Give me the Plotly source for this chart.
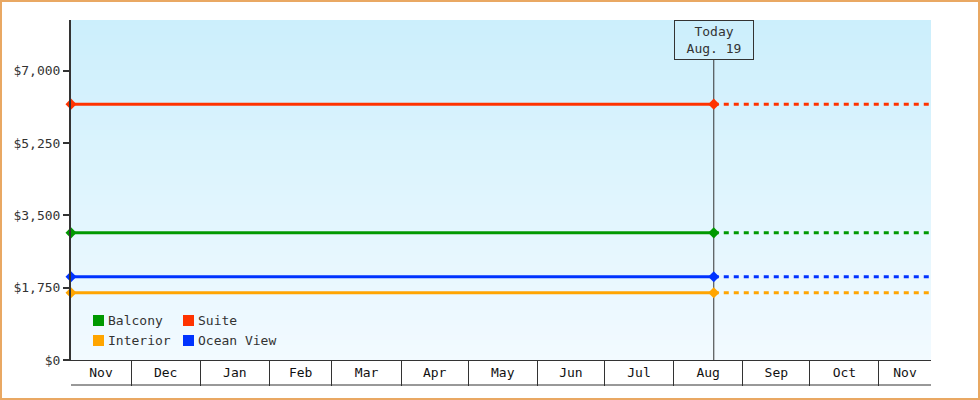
import plotly.graph_objects as go
import pandas as pd

# ---- data ----
names = ["Balcony", "Suite", "Interior", "Ocean View"]
prices = [3075, 6189, 1627, 2013]
colors = ["#009900", "#ff3300", "#ffa500", "#0033ff"]
legend_rows = [["Balcony", "Suite"], ["Interior", "Ocean View"]]

month_labels = ["Nov", "Dec", "Jan", "Feb", "Mar", "Apr", "May", "Jun",
                "Jul", "Aug", "Sep", "Oct", "Nov"]
month_starts = ["2024-11-01", "2024-12-01", "2025-01-01", "2025-02-01",
                "2025-03-01", "2025-04-01", "2025-05-01", "2025-06-01",
                "2025-07-01", "2025-08-01", "2025-09-01", "2025-10-01",
                "2025-11-01", "2025-12-01"]
range_start = "2024-11-04 03:00"
range_end = "2025-11-24 07:00"
today = "2025-08-19"
today_text = "Today<br>Aug. 19"
ytick_vals = [0, 1750, 3500, 5250, 7000]
ytick_text = ["$0", "$1,750", "$3,500", "$5,250", "$7,000"]
y_max = 8224

FONT = "DejaVu Sans Mono"
INK = "#333333"

# ---- geometry helpers (pixels -> paper) ----
W, H = 980, 400
ML, MR, MT, MB = 71, 49, 20, 40
PW, PH = W - ML - MR, H - MT - MB


def px_x(p):
    return (p - ML) / PW


def px_y(p):
    return (H - MB - p) / PH


fig = go.Figure()

for name, price, color in zip(names, prices, colors):
    fig.add_trace(go.Scatter(
        x=[today, range_end], y=[price, price], mode="lines",
        line=dict(color=color, width=3, dash="5px,5px"),
        showlegend=False, hoverinfo="skip", name=name))
    fig.add_trace(go.Scatter(
        x=[range_start, today], y=[price, price], mode="lines+markers",
        line=dict(color=color, width=3),
        marker=dict(symbol="diamond", size=8.5, color=color),
        cliponaxis=False, showlegend=False, hoverinfo="skip", name=name))

# month tick positions: centre of visible part of each month
rs, re_ = pd.Timestamp(range_start), pd.Timestamp(range_end)
tick_pos = []
for i in range(len(month_labels)):
    a = max(pd.Timestamp(month_starts[i]), rs)
    b = min(pd.Timestamp(month_starts[i + 1]), re_)
    tick_pos.append((a + (b - a) / 2).strftime("%Y-%m-%d %H:%M"))

shapes = []
# gradient background
top_c = (204, 239, 252)
bot_c = (242, 250, 255)
n = 68
for i in range(n):
    t = i / (n - 1)
    c = tuple(round(top_c[k] + (bot_c[k] - top_c[k]) * t) for k in range(3))
    shapes.append(dict(type="rect", xref="paper", yref="paper", x0=0, x1=1,
                       y0=1 - (i + 1) / n, y1=1 - i / n, line=dict(width=0),
                       fillcolor="rgb(%d,%d,%d)" % c, layer="below"))
# today line
shapes.append(dict(type="line", xref="x", yref="paper", x0=today, x1=today,
                   y0=0, y1=px_y(60), line=dict(color=INK, width=1),
                   layer="below"))
# bottom line of month table
shapes.append(dict(type="line", xref="paper", yref="paper", x0=0, x1=1,
                   y0=px_y(385), y1=px_y(385), line=dict(color=INK, width=1)))
# outer border
shapes.append(dict(type="rect", xref="paper", yref="paper",
                   x0=px_x(1), x1=px_x(979), y0=px_y(399), y1=px_y(1),
                   line=dict(color="#e9a863", width=2)))

annotations = [dict(x=today, xref="x", y=1, yref="paper", yanchor="top",
                    xanchor="center", text=today_text, showarrow=False,
                    font=dict(family=FONT, size=13, color=INK),
                    bordercolor=INK, borderwidth=1, borderpad=3,
                    width=72, height=32, align="center")]

# legend (manual, 2 x 2)
col_x = [93, 183]
row_y = [320.5, 340.5]
for r, row in enumerate(legend_rows):
    for c, nm in enumerate(row):
        color = colors[names.index(nm)]
        shapes.append(dict(type="rect", xref="paper", yref="paper",
                           x0=px_x(col_x[c]), x1=px_x(col_x[c] + 11),
                           y0=px_y(row_y[r] + 5.5), y1=px_y(row_y[r] - 5.5),
                           line=dict(width=0), fillcolor=color))
        annotations.append(dict(x=px_x(col_x[c] + 13), xref="paper",
                                y=px_y(row_y[r]), yref="paper",
                                xanchor="left", yanchor="middle", text=nm,
                                showarrow=False,
                                font=dict(family=FONT, size=13, color=INK)))

fig.update_layout(
    width=W, height=H,
    margin=dict(l=ML, r=MR, t=MT, b=MB),
    paper_bgcolor="white", plot_bgcolor="rgb(225,245,253)",
    font=dict(family=FONT, size=13, color=INK),
    shapes=shapes, annotations=annotations, showlegend=False,
    xaxis=dict(type="date", range=[range_start, range_end],
               tickvals=tick_pos, ticktext=month_labels,
               ticks="outside", ticklen=0, showgrid=False, zeroline=False,
               showline=True, linecolor=INK, linewidth=1,
               ticklabelstandoff=0,
               tickfont=dict(family=FONT, size=13, color="#111"),
               minor=dict(ticks="outside", ticklen=25, tickwidth=1,
                          tickcolor=INK, dtick="M1", tick0="2024-12-01",
                          showgrid=False)),
    yaxis=dict(range=[0, y_max], tickvals=ytick_vals, ticktext=ytick_text,
               ticks="outside", ticklen=6, tickwidth=2, tickcolor=INK,
               showline=True, linecolor=INK, linewidth=2,
               showgrid=False, zeroline=False,
               tickfont=dict(family=FONT, size=13, color=INK)),
)

fig.write_html("out.html", config={"displayModeBar": False},
               post_script="document.body.style.margin='0';"
                           "document.body.style.overflow='hidden';")
